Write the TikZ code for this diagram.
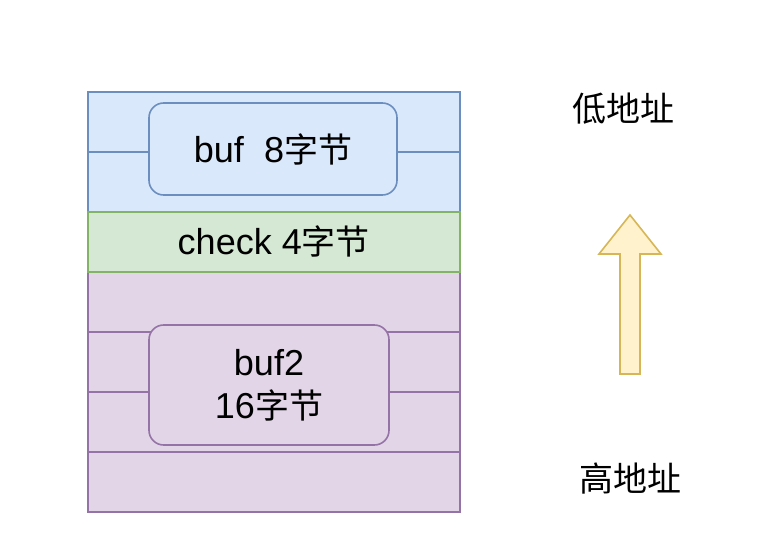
\documentclass[tikz,border=0pt]{standalone}
\usepackage{fontspec}
\setmainfont[Scale=1.06]{Liberation Sans}
\newfontfamily\cjk{Noto Sans CJK SC}
\definecolor{bluefill}{HTML}{DAE8FC}
\definecolor{bluedraw}{HTML}{6C8EBF}
\definecolor{greenfill}{HTML}{D5E8D4}
\definecolor{greendraw}{HTML}{82B366}
\definecolor{purplefill}{HTML}{E1D5E7}
\definecolor{purpledraw}{HTML}{9673A6}
\definecolor{yellowfill}{HTML}{FFF2CC}
\definecolor{yellowdraw}{HTML}{D6B656}
\begin{document}
\begin{tikzpicture}[x=0.75pt,y=-0.75pt,
  txt/.style={font=\fontsize{25.5}{32}\selectfont, text=black},
  cell/.style={draw, line width=1.2pt, minimum width=279pt, minimum height=45pt, inner sep=0pt, anchor=north west},
  bluecell/.style={cell, fill=bluefill, draw=bluedraw},
  greencell/.style={cell, fill=greenfill, draw=greendraw},
  purplecell/.style={cell, fill=purplefill, draw=purpledraw},
  roundbox/.style={draw, line width=1.2pt, rounded corners=11pt, inner sep=0pt, align=center, txt},
  label/.style={txt, inner sep=0pt}
]
\useasboundingbox (0,0) rectangle (758,560);
\node[bluecell] (b1) at (87,91) {};
\node[bluecell] (b2) at (87,151) {};
\node[purplecell] (p1) at (87,271) {};
\node[purplecell] (p2) at (87,331) {};
\node[purplecell] (p3) at (87,391) {};
\node[purplecell] (p4) at (87,451) {};
\node[greencell, txt] (chk) at (87,211) {check 4{\cjk 字节}};
\node[roundbox, fill=bluefill, draw=bluedraw, minimum width=186pt, minimum height=69pt] (buf) at (273,149) {buf\ \ 8{\cjk 字节}};
\node[roundbox, fill=purplefill, draw=purpledraw, minimum width=180pt, minimum height=90pt] (buf2) at (269,385) {buf2\\16{\cjk 字节}};
\node[label] (low) at (623,109) {\cjk 低地址};
\node[label] (high) at (630,479) {\cjk 高地址};
\draw[line width=1.2pt, draw=yellowdraw, fill=yellowfill, line join=miter]
  (630,215) -- (661,254) -- (640,254) -- (640,374) -- (620,374) -- (620,254) -- (599,254) -- cycle;
\end{tikzpicture}
\end{document}
